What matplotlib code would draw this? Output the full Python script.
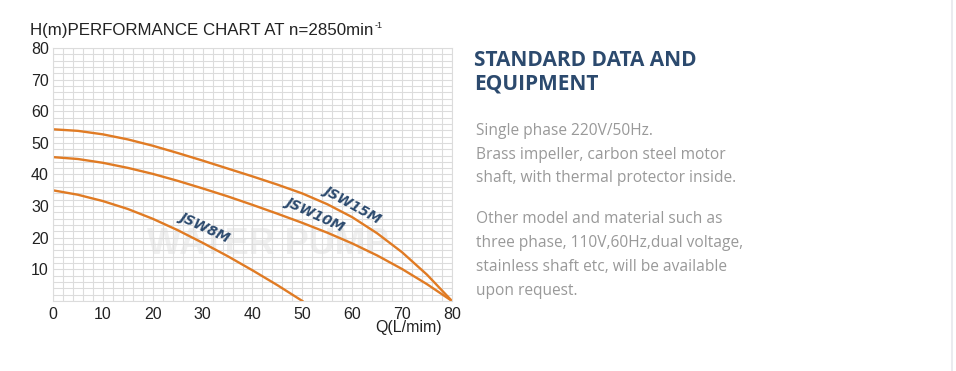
import numpy as np
import matplotlib.pyplot as plt

# performance curves (Q in L/min, H in m)
q_8m = [0, 5, 10, 15, 20, 25, 30, 35, 40, 45, 50]
h_8m = [35, 33.6, 31.6, 29.1, 26.0, 22.4, 18.4, 14.2, 9.7, 5.0, 0]

q_10m = [0, 5, 10, 15, 20, 25, 30, 35, 40, 45, 50, 55, 60, 65, 70, 75, 80]
h_10m = [45.5, 44.9, 43.7, 42.1, 40.2, 38.0, 35.6, 33.1, 30.4, 27.6, 24.7,
         21.6, 18.2, 14.4, 10.1, 5.3, 0]

q_15m = [0, 5, 10, 15, 20, 25, 30, 35, 40, 45, 50, 55, 60, 65, 70, 75, 80]
h_15m = [54.3, 53.8, 52.7, 51.1, 49.1, 46.8, 44.4, 41.9, 39.4, 36.8, 34.0,
         30.6, 26.5, 21.4, 15.4, 8.3, 0]

x_ticks = [0, 10, 20, 30, 40, 50, 60, 70, 80]
y_ticks = [10, 20, 30, 40, 50, 60, 70, 80]

info_lines_1 = ["Single phase 220V/50Hz.",
                "Brass impeller, carbon steel motor",
                "shaft, with thermal protector inside."]
info_lines_2 = ["Other model and material such as",
                "three phase, 110V,60Hz,dual voltage,",
                "stainless shaft etc, will be available",
                "upon request."]

orange = "#e07b24"
navy = "#2c4a6e"

plt.rcParams['font.family'] = ['Liberation Sans', 'DejaVu Sans']

fig = plt.figure(figsize=(9.56, 3.71), dpi=100)
ax = fig.add_axes([0.0554, 0.1887, 0.4174, 0.6819])

ax.set_xlim(0, 80)
ax.set_ylim(0, 80)
ax.set_xticks(np.arange(0, 81, 2), minor=True)
ax.set_yticks(np.arange(0, 81, 2), minor=True)
ax.set_xticks(x_ticks)
ax.set_yticks(y_ticks)
ax.grid(which='both', color='#dcdcdc', linewidth=0.8)
ax.set_axisbelow(True)
for s in ax.spines.values():
    s.set_color('#dcdcdc')
    s.set_linewidth(0.8)
ax.tick_params(which='both', length=0, labelsize=11.5, colors='#222222')
ax.tick_params(axis='y', pad=3)
ax.tick_params(axis='x', pad=4)

# faint watermark
ax.text(43, 18, "WATER PUMP", fontsize=26, fontweight='bold', color='#f0f0f0',
        ha='center', va='center', zorder=0)

ax.plot(q_8m, h_8m, color=orange, lw=1.7)
ax.plot(q_10m, h_10m, color=orange, lw=1.7)
ax.plot(q_15m, h_15m, color=orange, lw=1.7)

lab = dict(color=navy, fontsize=10, fontweight='bold', style='italic',
           ha='center', va='center', family=['DejaVu Sans'])
ax.text(30.5, 23.5, "JSW8M", rotation=-25, **lab)
ax.text(52.5, 27.5, "JSW10M", rotation=-25, **lab)
ax.text(60, 30.5, "JSW15M", rotation=-29, **lab)

ax.text(0.89, -0.105, "Q(L/mim)", fontsize=11.5, color='#222222',
        transform=ax.transAxes, ha='center', va='center')

title = fig.text(30 / 956, 1 - 30 / 371, "H(m)PERFORMANCE CHART AT n=2850min",
                 fontsize=12.2, color='#222222', va='center', ha='left')
fig.canvas.draw()
bb = title.get_window_extent().transformed(fig.transFigure.inverted())
fig.text(bb.x1 + 1 / 956, 1 - 26 / 371, "-1", fontsize=6.5, color='#222222',
         va='center', ha='left')

fig.text(474 / 956, 1 - 60 / 371, "STANDARD DATA AND", fontsize=15,
         fontweight='bold', color=navy, va='center', family=['Open Sans', 'DejaVu Sans'])
fig.text(474 / 956, 1 - 84 / 371, "EQUIPMENT", fontsize=15,
         fontweight='bold', color=navy, va='center', family=['Open Sans', 'DejaVu Sans'])

for i, line in enumerate(info_lines_1):
    fig.text(476 / 956, 1 - (131 + i * 23.7) / 371, line, fontsize=11.2,
             color='#999999', va='center', family=['Open Sans', 'DejaVu Sans'])
for i, line in enumerate(info_lines_2):
    fig.text(476 / 956, 1 - (219 + i * 24) / 371, line, fontsize=11.2,
             color='#999999', va='center', family=['Open Sans', 'DejaVu Sans'])

fig.add_artist(plt.Line2D([952 / 956, 952 / 956], [0, 1], color='#e6e8ec', lw=1.2))

fig.savefig("out.png", dpi=100)
